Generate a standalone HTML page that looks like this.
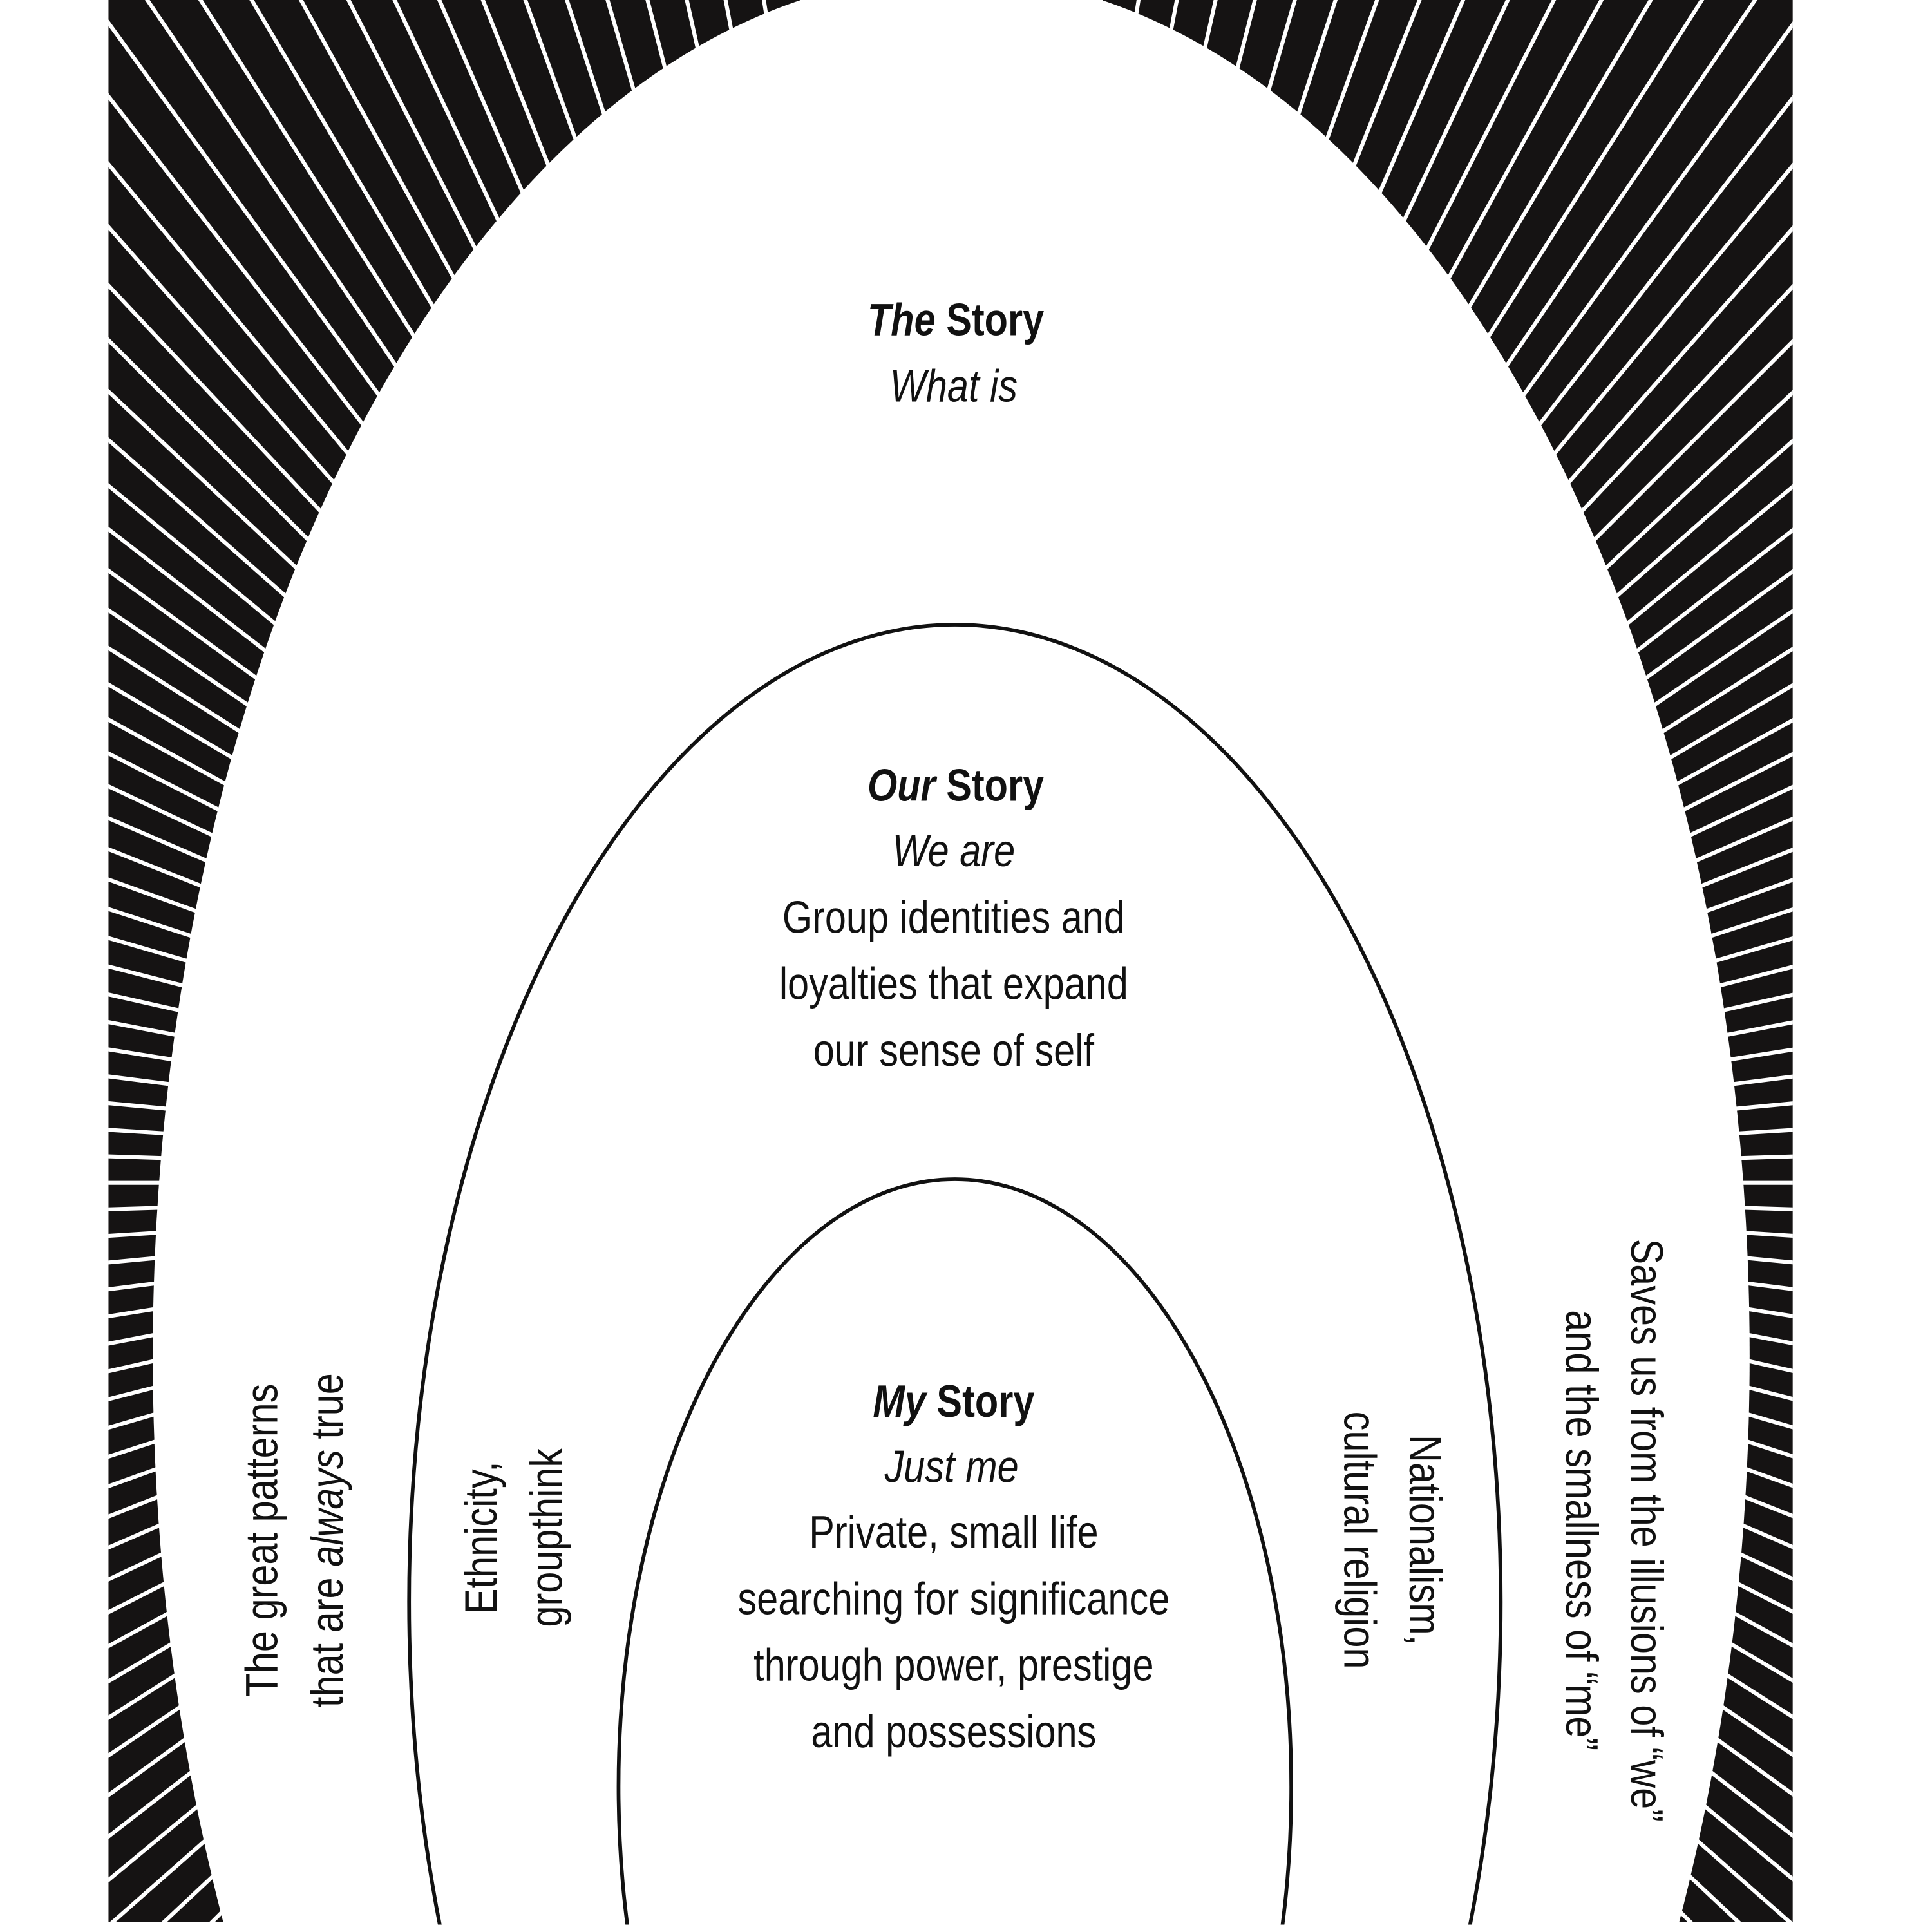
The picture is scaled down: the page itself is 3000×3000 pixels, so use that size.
<!DOCTYPE html>
<html><head><meta charset="utf-8"><style>
html,body{margin:0;padding:0;background:#fff;width:3000px;height:3000px;overflow:hidden}
svg{display:block}
text{font-family:"Liberation Sans Narrow","Liberation Sans",sans-serif;fill:#111}
</style></head><body>
<svg id="s" width="3000" height="3000" viewBox="0 0 1568 1568" xmlns="http://www.w3.org/2000/svg">
<defs><clipPath id="c"><rect x="88" y="0" width="1367" height="1560"/></clipPath></defs>
<rect width="1568" height="1568" fill="#fff"/>
<g clip-path="url(#c)">
<rect x="88" y="0" width="1367" height="1560" fill="#151313"/>
<g id="rays" stroke="#fff" stroke-width="3.2"></g>
<ellipse cx="772" cy="1100" rx="648" ry="1120" fill="#fff"/>
</g>
<ellipse cx="775" cy="1300" rx="443" ry="793" fill="none" stroke="#111" stroke-width="3"/>
<ellipse cx="775" cy="1450" rx="273" ry="493" fill="none" stroke="#111" stroke-width="3"/>
<rect x="0" y="1562" width="1568" height="6" fill="#fff"/>
<g text-anchor="middle" font-size="37">
<g transform="translate(774,0) scale(0.84,1) translate(-774,0)">
<text x="776" y="272" font-weight="bold"><tspan font-style="italic">The</tspan> Story</text>
<text x="774" y="326" font-style="italic">What is</text>
<text x="776" y="650" font-weight="bold"><tspan font-style="italic">Our</tspan> Story</text>
<text x="774" y="703" font-style="italic">We are</text>
<text x="774" y="757">Group identities and</text>
<text x="774" y="811">loyalties that expand</text>
<text x="774" y="865">our sense of self</text>
<text x="774" y="1150" font-weight="bold"><tspan font-style="italic">My</tspan> Story</text>
<text x="772" y="1203" font-style="italic">Just me</text>
<text x="774" y="1256">Private, small life</text>
<text x="774" y="1310">searching for significance</text>
<text x="774" y="1364">through power, prestige</text>
<text x="774" y="1418">and possessions</text>
</g>
<g transform="translate(250,1250) rotate(-90) scale(0.84,1)">
<text x="0" y="-25">The great patterns</text>
<text x="0" y="28">that are <tspan font-style="italic">always</tspan> true</text>
</g>
<g transform="translate(416,1248) rotate(-90) scale(0.84,1)">
<text x="0" y="-13">Ethnicity,</text>
<text x="0" y="40">groupthink</text>
</g>
<g transform="translate(1128,1250) rotate(90) scale(0.84,1)">
<text x="0" y="-16">Nationalism,</text>
<text x="0" y="37">cultural religion</text>
</g>
<g transform="translate(1307,1242) rotate(90) scale(0.84,1)">
<text x="0" y="-17">Saves us from the illusions of “we”</text>
<text x="0" y="36">and the smallness of “me”</text>
</g>
</g>
</svg>
<script>
var g=document.getElementById('rays'),ns='http://www.w3.org/2000/svg',cx=772,cy=960;
for(var a=0;a<360;a+=1.8){var r=a*Math.PI/180,l=document.createElementNS(ns,'line');
l.setAttribute('x1',cx);l.setAttribute('y1',cy);
l.setAttribute('x2',cx+2500*Math.cos(r));l.setAttribute('y2',cy+2500*Math.sin(r));g.appendChild(l);}
</script>
</body></html>
